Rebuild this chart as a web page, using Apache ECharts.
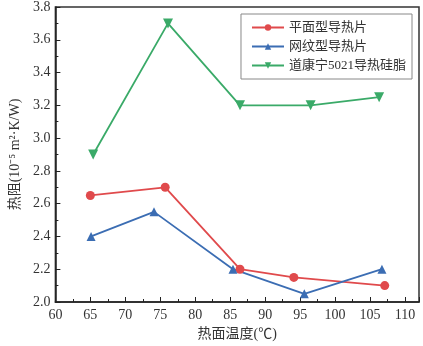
<!DOCTYPE html>
<html><head><meta charset="utf-8">
<script src="https://cdn.jsdelivr.net/npm/echarts@6/dist/echarts.min.js"></script>
<style>html,body{margin:0;padding:0;background:#fff}#c{width:423px;height:346px}</style>
</head><body><div id="c"></div>
<script>
const seriesNames = ['平面型导热片', '网纹型导热片', '道康宁5021导热硅脂'];
const flatX = [65, 75.7, 86.4, 94.1, 107.1];
const flatY = [2.65, 2.70, 2.20, 2.15, 2.10];
const meshX = [65.1, 74.1, 85.4, 95.6, 106.7];
const meshY = [2.40, 2.55, 2.20, 2.05, 2.20];
const greaseX = [65.4, 76.1, 86.4, 96.5, 106.3];
const greaseY = [2.90, 3.70, 3.20, 3.20, 3.25];
const colors = ['#e04a4c', '#3b6db3', '#3aaa68'];
const symbols = ['circle', 'triangle', 'path://M0,0 L10,0 L5,9 Z'];

function pairs(xs, ys) { return xs.map((x, i) => [x, ys[i]]); }
const dataSets = [pairs(flatX, flatY), pairs(meshX, meshY), pairs(greaseX, greaseY)];

const serif = 'Liberation Serif, Noto Sans CJK SC, serif';
const chart = echarts.init(document.getElementById('c'), null, {renderer: 'canvas'});
chart.setOption({
  backgroundColor: '#fff',
  animation: false,
  grid: {left: 51.5, right: 4, top: 4, bottom: 42, show: true, borderColor: '#333', borderWidth: 1.5},
  legend: {
    show: true, orient: 'vertical', right: 11, top: 14,
    padding: [7, 6, 7, 10], itemGap: 6, itemWidth: 32, itemHeight: 8,
    borderColor: '#888', borderWidth: 1, backgroundColor: '#fff',
    textStyle: {fontFamily: serif, fontSize: 13, color: '#333'},
    data: seriesNames
  },
  xAxis: {
    type: 'value', min: 60, max: 112, interval: 5,
    name: '热面温度(℃)', nameLocation: 'middle', nameGap: 25,
    nameTextStyle: {fontFamily: serif, fontSize: 14, color: '#333'},
    axisLine: {lineStyle: {color: '#222', width: 1.5}},
    axisTick: {inside: true, length: 5, lineStyle: {color: '#222'}},
    minorTick: {show: true, splitNumber: 2, length: 3, lineStyle: {color: '#222'}},
    axisLabel: {fontFamily: serif, fontSize: 14, color: '#333', margin: 6,
      formatter: v => (v % 5 === 0 && v <= 110) ? String(v) : ''},
    splitLine: {show: false}
  },
  yAxis: {
    type: 'value', min: 2.0, max: 3.8, interval: 0.2,
    name: '热阻(10⁻⁵ m²·K/W)', nameLocation: 'middle', nameGap: 32,
    nameTextStyle: {fontFamily: serif, fontSize: 14, color: '#333'},
    axisLine: {lineStyle: {color: '#222', width: 1.5}},
    axisTick: {inside: true, length: 5, lineStyle: {color: '#222'}},
    minorTick: {show: true, splitNumber: 2, length: 3, lineStyle: {color: '#222'}},
    axisLabel: {fontFamily: serif, fontSize: 14, color: '#333', margin: 5,
      formatter: v => v.toFixed(1)},
    splitLine: {show: false}
  },
  series: seriesNames.map((n, i) => ({
    name: n, type: 'line', data: dataSets[i],
    symbol: symbols[i], symbolSize: i === 2 ? 10 : 9,
    itemStyle: {color: colors[i]},
    lineStyle: {color: colors[i], width: 1.8}
  }))
});
</script></body></html>
